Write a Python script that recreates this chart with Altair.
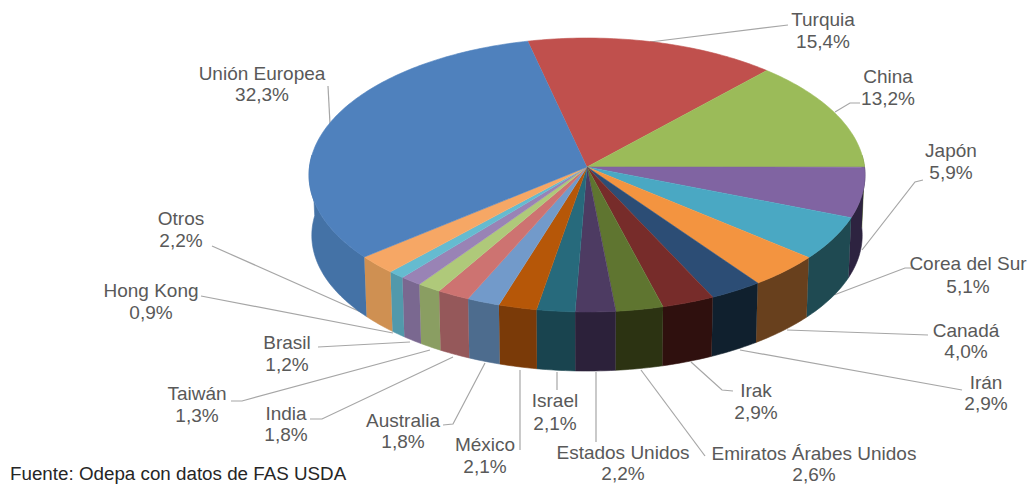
import math
import altair as alt
import pandas as pd

names = ["Turquia", "China", "Japón", "Corea del Sur", "Canadá", "Irán", "Irak",
         "Emiratos Árabes Unidos", "Estados Unidos", "Israel", "México", "Australia",
         "India", "Taiwán", "Brasil", "Hong Kong", "Otros", "Unión Europea"]
shares = [15.4, 13.2, 5.9, 5.1, 4.0, 2.9, 2.9, 2.6, 2.2, 2.1, 2.1, 1.8, 1.8, 1.3, 1.2, 0.9, 2.2, 32.3]
share_text = ["15,4%", "13,2%", "5,9%", "5,1%", "4,0%", "2,9%", "2,9%", "2,6%", "2,2%",
              "2,1%", "2,1%", "1,8%", "1,8%", "1,3%", "1,2%", "0,9%", "2,2%", "32,3%"]
top_colors = ["#C0504D", "#9BBB59", "#8064A2", "#4AA8C3", "#F39440", "#2C4D75", "#772C2A",
              "#5F7530", "#4D3B62", "#276A7C", "#B65708", "#729ACA", "#CD7371", "#AFC97A",
              "#9983B5", "#65BBD0", "#F6A765", "#4F81BD"]
side_colors = ["#7A3230", "#627636", "#2D2340", "#1F4A52", "#68401D", "#10202E", "#2F100E",
               "#2C3312", "#2C213A", "#19444F", "#7A3A08", "#4D6C8E", "#95585A", "#8A9E62",
               "#7A6890", "#5299AB", "#CF9052", "#4472A6"]
label_x = [823, 888, 951, 968, 966, 986, 756, 814, 623, 555, 485, 403, 286, 197, 287, 151, 181, 262]
label_y = [20, 77, 151, 264, 331, 383, 391, 454, 453, 401, 445, 421, 414, 394, 343, 291, 219, 74]
share_y = [42, 99, 173, 287, 352, 404, 413, 475, 474, 424, 467, 442, 435, 416, 365, 313, 241, 95]
leaders = [
    [(650, 42), (788, 25)],
    [(835, 112), (850, 103), (860, 103)],
    [(862, 250), (915, 182), (923, 180)],
    [(834, 295), (905, 268), (914, 268)],
    [(787, 330), (928, 335)],
    [(740, 350), (962, 390)],
    [(691, 362), (722, 390), (733, 391)],
    [(641, 370), (705, 456)],
    [(596, 372), (596, 442)],
    [(557, 372), (557, 390)],
    [(520, 370), (520, 450)],
    [(485, 363), (453, 424), (443, 425)],
    [(453, 357), (322, 419), (310, 419)],
    [(430, 350), (242, 401), (231, 401)],
    [(410, 342), (318, 347)],
    [(393, 333), (201, 296)],
    [(363, 313), (212, 246)],
    [(330, 124), (328, 86)],
]

# Tilted-disc projection of the pie
CX, CY, R, S, K = 587.0, 167.0, 277.5, 136.5, 0.0584
START = -13.0
DEPTH_Y, DEPTH_SCALE = 60.5, 0.99


def project(deg, scale=1.0, dy=0.0):
    u, v = math.sin(math.radians(deg)), math.cos(math.radians(deg))
    w = 1 + K * v
    return CX + scale * R * u / w, CY + dy - scale * S * v / w


def arc_degrees(a, b):
    n = max(2, int((b - a) / 1.0) + 1)
    return [a + (b - a) * i / n for i in range(n + 1)]


total = sum(shares)
top_rows, side_rows = [], []
angle = START
for i, share in enumerate(shares):
    end = angle + share / total * 360
    pts = [(CX, CY)] + [project(d) for d in arc_degrees(angle, end)]
    for k, (x, y) in enumerate(pts):
        top_rows.append(dict(slice=i, k=k, x=x, y=y, c=top_colors[i]))
    a, b = max(angle, 85), min(end, 275)
    if b > a:
        deg = arc_degrees(a, b)
        ring = [project(d) for d in deg] + [project(d, DEPTH_SCALE, DEPTH_Y) for d in reversed(deg)]
        for k, (x, y) in enumerate(ring):
            side_rows.append(dict(slice=i, k=k, x=x, y=y, c=side_colors[i]))
    angle = end

leader_rows = [dict(slice=i, k=k, x=p[0], y=p[1]) for i, line in enumerate(leaders) for k, p in enumerate(line)]
label_rows = pd.DataFrame(dict(name=names, share=share_text, x=label_x, y=label_y, y2=share_y))

X = alt.X("x:Q", scale=alt.Scale(domain=[8, 1028], nice=False, zero=False), axis=None)
Y = alt.Y("y:Q", scale=alt.Scale(domain=[484, 8], nice=False, zero=False), axis=None)


def faces(rows):
    return alt.Chart(pd.DataFrame(rows)).mark_line(filled=True, strokeWidth=0.6, interpolate="linear").encode(
        x=X, y=Y, detail="slice:N", order="k:Q",
        fill=alt.Fill("c:N", scale=None), stroke=alt.Stroke("c:N", scale=None))


lines = alt.Chart(pd.DataFrame(leader_rows)).mark_line(color="#A6A6A6", strokeWidth=1.2).encode(
    x=X, y=Y, detail="slice:N", order="k:Q")

TXT = dict(font="Liberation Sans", fontSize=19, color="#595959", baseline="middle", align="center")
name_text = alt.Chart(label_rows).mark_text(**TXT).encode(x=X, y=Y, text="name:N")
pct_text = alt.Chart(label_rows).mark_text(**TXT).encode(
    x=X, y=alt.Y("y2:Q", scale=alt.Scale(domain=[484, 8], nice=False, zero=False), axis=None), text="share:N")
source = alt.Chart(pd.DataFrame(dict(x=[10], y=[474], t=["Fuente: Odepa con datos de FAS USDA"]))).mark_text(
    font="Liberation Sans", fontSize=18.8, color="#262626", baseline="middle", align="left").encode(x=X, y=Y, text="t:N")

chart = alt.layer(lines, faces(side_rows), faces(top_rows), name_text, pct_text, source).properties(
    width=1020, height=476, padding=0, autosize=alt.AutoSizeParams(type="none"), background="white"
).configure_view(stroke=None)

chart.save("out.html", embed_options={"renderer": "svg", "actions": False})
